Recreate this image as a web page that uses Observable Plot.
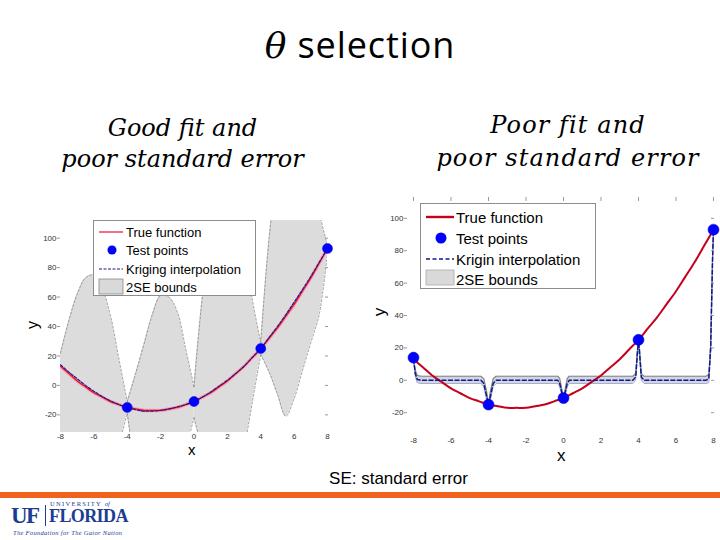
<!DOCTYPE html>
<html><head><meta charset="utf-8">
<script src="https://cdn.jsdelivr.net/npm/d3@7"></script>
<script src="https://cdn.jsdelivr.net/npm/@observablehq/plot@0.6"></script>
<style>
body{margin:0;background:#fff;}
#slide{position:relative;width:720px;height:540px;overflow:hidden;background:#fff;font-family:"Liberation Sans",Arial,sans-serif;color:#000;}
.abs{position:absolute;white-space:nowrap;}
.leg{position:absolute;background:#fff;border:1px solid #8c8c8c;box-sizing:border-box;}
.leg svg{position:absolute;left:0;top:0;}
.leg div{position:absolute;white-space:nowrap;transform:translateY(-50%);}
</style></head><body><div id="slide"></div>
<script>
// ---------- data ----------
const xGrid = [-8,-7.5,-7,-6.5,-6,-5.5,-5,-4.5,-4,-3.5,-3,-2.5,-2,-1.5,-1,-0.5,0,0.5,1,1.5,2,2.5,3,3.5,4,4.5,5,5.5,6,6.5,7,7.5,8];
const trueY = [13,8,3,-1,-5,-8,-11,-13,-15,-16,-17,-17,-17,-16,-15,-13,-11,-8,-5,-1,3,8,13,19,25,32,39,47,55,64,73,83,93];
const leftKrigY = [14,9,4.5,0,-4,-7.5,-10.5,-13,-15,-16.5,-17.5,-17.5,-17,-16,-14.5,-13,-11,-8,-4.5,-0.5,3.5,8,13,19,25,32.5,40,48,56.5,65,74,83.5,93];
const leftUpper = [22,44,62,73,75,66,47,18,-11,8,28,48,61,60,50,25,-1,60,100,120,125,122,95,58,29,100,145,165,170,165,150,118,95];
const leftLower = [-40,-70,-90,-100,-100,-95,-75,-42,-19,-55,-75,-85,-95,-90,-75,-45,-22,-45,-75,-90,-95,-85,-45,-11,21,9,-6,-21,-9,10,29,48,90];
const leftPinchX = [-8,-4,0,4,8];
const leftPtsX = [-4,0,4,8];
const leftPtsY = [-15,-11,25,93];

const rightPtsX = [-8,-4,0,4,8];
const rightPtsY = [14,-15,-11,25,93];
const rightKrigX = [-8,-7.9,-7.8,-7.6,-4.4,-4.25,-4.1,-4,-3.9,-3.75,-3.6,-0.3,-0.2,-0.08,0,0.08,0.2,0.3,3.7,3.85,3.95,4,4.05,4.15,4.3,7.6,7.75,7.85,7.95,8];
const rightKrigY = [13,4,0.5,0,0,-2,-10,-15,-10,-2,0,0,-2,-8,-11,-8,-2,0,0,2,18,25,18,2,0,0,1,20,75,93];
const rightUpper = [13,6,3,2.5,2.5,1,-7,-15,-7,1,2.5,2.5,1,-6,-11,-6,1,2.5,2.5,4,20,25,20,4,2.5,2.5,3.5,22,76,93];
const rightLower = [13,2,-1.5,-2,-2,-4,-12,-15,-12,-4,-2,-2,-4,-10,-11,-10,-4,-2,-2,0,16,25,16,0,-2,-2,-1.5,18,74,93];

const xTicks = [-8,-6,-4,-2,0,2,4,6,8];
const yTicks = [-20,0,20,40,60,80,100];
const legendLeft = ["True function","Test points","Kriging interpolation","2SE bounds"];
const legendRight = ["True function","Test points","Krigin interpolation","2SE bounds"];

// ---------- tables ----------
const leftBand = [];
for (let k = 0; k < leftPinchX.length - 1; k++) {
  xGrid.forEach((x, i) => {
    if (x >= leftPinchX[k] && x <= leftPinchX[k + 1]) leftBand.push({seg: k, x, hi: leftUpper[i], lo: leftLower[i]});
  });
}
const trueTab = xGrid.map((x,i)=>({x, y:trueY[i]}));
const leftKrig = xGrid.map((x,i)=>({x, y:leftKrigY[i]}));
const leftPts = leftPtsX.map((x,i)=>({x, y:leftPtsY[i]}));
const rightPts = rightPtsX.map((x,i)=>({x, y:rightPtsY[i]}));
const rightKrig = rightKrigX.map((x,i)=>({x, y:rightKrigY[i], hi:rightUpper[i], lo:rightLower[i]}));

const slide = document.getElementById("slide");
function add(html){ slide.insertAdjacentHTML("beforeend", html); }
const fmt = d => String(d);

// ---------- left chart ----------
const left = Plot.plot({
  width: 345, height: 265, marginLeft: 60, marginRight: 18, marginTop: 20, marginBottom: 33,
  x: {domain: [-8, 8]},
  y: {domain: [-32, 112]},
  style: {fontSize: "8px", fontFamily: "Liberation Sans, Arial, sans-serif", color: "#333", background: "transparent", overflow: "visible"},
  marks: [
    Plot.areaY(leftBand, {x: "x", y1: "lo", y2: "hi", z: "seg", fill: "#dcdcdc", curve: "catmull-rom", clip: true}),
    Plot.line(leftBand, {x: "x", y: "hi", z: "seg", stroke: "#777", strokeWidth: 0.7, strokeDasharray: "2,2", curve: "catmull-rom", clip: true}),
    Plot.line(leftBand, {x: "x", y: "lo", z: "seg", stroke: "#777", strokeWidth: 0.7, strokeDasharray: "2,2", curve: "catmull-rom", clip: true}),
    Plot.line(trueTab, {x: "x", y: "y", stroke: "#f6a3b6", strokeWidth: 3.5, curve: "catmull-rom", clip: true}),
    Plot.line(trueTab, {x: "x", y: "y", stroke: "#e8102a", strokeWidth: 1.3, curve: "catmull-rom", clip: true}),
    Plot.line(leftKrig, {x: "x", y: "y", stroke: "#1a1a8c", strokeWidth: 1.1, strokeDasharray: "3,1.5", curve: "catmull-rom", clip: true}),
    Plot.dot(leftPts, {x: "x", y: "y", r: 5, fill: "#0000ff", stroke: "#0000cc", strokeWidth: 0.5}),
    Plot.axisX({ticks: xTicks, tickFormat: fmt, tickSize: 0, tickPadding: 1, label: null}),
    Plot.axisY({ticks: yTicks, tickFormat: fmt, tickSize: 3, tickPadding: 1, stroke: "#999", label: null}),
    Plot.axisY({ticks: yTicks, anchor: "right", tickFormat: () => "", tickSize: 3, dx: -3, stroke: "#999", label: null})
  ]
});
left.style.position = "absolute"; left.style.left = "0px"; left.style.top = "200px";
slide.appendChild(left);

// ---------- right chart ----------
const right = Plot.plot({
  width: 350, height: 270, marginLeft: 43, marginRight: 7, marginTop: 5, marginBottom: 35,
  x: {domain: [-8, 8]},
  y: {domain: [-31, 111]},
  style: {fontSize: "8px", fontFamily: "Liberation Sans, Arial, sans-serif", color: "#333", background: "transparent", overflow: "visible"},
  marks: [
    Plot.areaY(rightKrig, {x: "x", y1: "lo", y2: "hi", fill: "#d3d5e5"}),
    Plot.line(rightKrig, {x: "x", y: "hi", stroke: "#858585", strokeWidth: 1.2}),
    Plot.line(rightKrig, {x: "x", y: "lo", stroke: "#a9abc8", strokeWidth: 1}),
    Plot.line(trueTab, {x: "x", y: "y", stroke: "#c4001c", strokeWidth: 2, curve: "catmull-rom"}),
    Plot.line(rightKrig, {x: "x", y: "y", stroke: "#0d1a8a", strokeWidth: 1.5, strokeDasharray: "4,2.5"}),
    Plot.dot(rightPts, {x: "x", y: "y", r: 5.5, fill: "#0000ff", stroke: "#0000cc", strokeWidth: 0.5}),
    Plot.axisX({ticks: xTicks, tickFormat: fmt, tickSize: 0, tickPadding: 7, label: null}),
    Plot.axisX({ticks: xTicks, anchor: "top", tickFormat: () => "", tickSize: 4, stroke: "#999", label: null}),
    Plot.axisY({ticks: yTicks, tickFormat: fmt, tickSize: 3, tickPadding: 1, dx: -6, stroke: "#999", label: null}),
    Plot.axisY({ticks: yTicks, anchor: "right", tickFormat: () => "", tickSize: 3, dx: -3, stroke: "#999", label: null})
  ]
});
right.style.position = "absolute"; right.style.left = "370px"; right.style.top = "195px";
slide.appendChild(right);

// ---------- axis labels ----------
add(`<div class="abs" style="left:188px;top:441px;font-size:15px;">x</div>`);
add(`<div class="abs" style="left:29px;top:316px;font-size:16px;transform:rotate(-90deg);">y</div>`);
add(`<div class="abs" style="left:557px;top:446px;font-size:17px;">x</div>`);
add(`<div class="abs" style="left:376px;top:302px;font-size:17px;transform:rotate(-90deg);">y</div>`);

// ---------- legends ----------
add(`<div class="leg" style="left:93px;top:220px;width:163px;height:76px;font-size:13px;">
<svg width="32" height="76">
<line x1="5" x2="29" y1="11" y2="11" stroke="#e8102a" stroke-width="1.2"/>
<circle cx="18" cy="29" r="4.5" fill="#0000ff"/>
<line x1="5" x2="29" y1="48" y2="48" stroke="#1a1a8c" stroke-width="1.1" stroke-dasharray="3,1.5"/>
<rect x="5" y="58" width="24" height="15" fill="#d9d9d9" stroke="#888" stroke-width="0.8"/>
</svg>
<div style="left:32px;top:11px">${legendLeft[0]}</div>
<div style="left:32px;top:29px">${legendLeft[1]}</div>
<div style="left:32px;top:48px">${legendLeft[2]}</div>
<div style="left:32px;top:66px">${legendLeft[3]}</div>
</div>`);
add(`<div class="leg" style="left:420px;top:203px;width:176px;height:86px;font-size:15px;">
<svg width="36" height="86">
<line x1="5" x2="33" y1="13" y2="13" stroke="#c4001c" stroke-width="2.4"/>
<circle cx="20" cy="34" r="5.5" fill="#0000ff"/>
<line x1="5" x2="33" y1="55" y2="55" stroke="#0d1a8a" stroke-width="1.3" stroke-dasharray="4,2.5"/>
<rect x="5" y="66" width="28" height="15" fill="#d9d9d9" stroke="#aaa" stroke-width="0.8"/>
</svg>
<div style="left:35px;top:13px">${legendRight[0]}</div>
<div style="left:35px;top:34px">${legendRight[1]}</div>
<div style="left:35px;top:55px">${legendRight[2]}</div>
<div style="left:35px;top:75px">${legendRight[3]}</div>
</div>`);

// ---------- slide texts ----------
add(`<div class="abs" style="left:0;width:720px;top:25px;text-align:center;font-family:'Open Sans',sans-serif;font-size:36px;line-height:40px;letter-spacing:0.9px;"><span style="font-family:'DejaVu Serif',serif;font-style:italic;">θ</span> selection</div>`);
add(`<div class="abs" style="left:0;width:365px;top:113px;text-align:center;font-family:'DejaVu Serif',serif;font-style:italic;font-size:24px;line-height:31px;">Good fit and<br>poor standard error</div>`);
add(`<div class="abs" style="left:398px;width:340px;top:109px;text-align:center;font-family:'DejaVu Serif',serif;font-style:italic;font-size:24px;line-height:33px;letter-spacing:1.1px;">Poor fit and<br>poor standard error</div>`);
add(`<div class="abs" style="left:0;width:797px;top:469px;text-align:center;font-size:17px;line-height:20px;">SE: standard error</div>`);
add(`<div class="abs" style="left:0;top:492px;width:720px;height:6px;background:#f0621e;"></div>`);
// UF logo
add(`<div class="abs" style="left:11px;top:506px;font-family:'Liberation Serif',serif;font-weight:bold;font-size:23px;line-height:19px;color:#1b3d93;letter-spacing:-1.5px;">UF</div>`);
add(`<div class="abs" style="left:45px;top:505px;width:1px;height:21px;background:#1b3d93;"></div>`);
add(`<div class="abs" style="left:50px;top:500px;font-family:'Liberation Serif',serif;font-size:6.5px;line-height:7px;color:#1b3d93;letter-spacing:1.3px;">UNIVERSITY <i style="letter-spacing:0">of</i></div>`);
add(`<div class="abs" style="left:49px;top:508px;font-family:'Liberation Serif',serif;font-weight:bold;font-size:18px;line-height:16px;color:#1b3d93;letter-spacing:-0.6px;">FLORIDA</div>`);
add(`<div class="abs" style="left:13px;top:529px;font-family:'Liberation Serif',serif;font-style:italic;font-size:6.5px;line-height:7px;color:#1b3d93;letter-spacing:0.3px;">The Foundation for The Gator Nation</div>`);
</script></body></html>
